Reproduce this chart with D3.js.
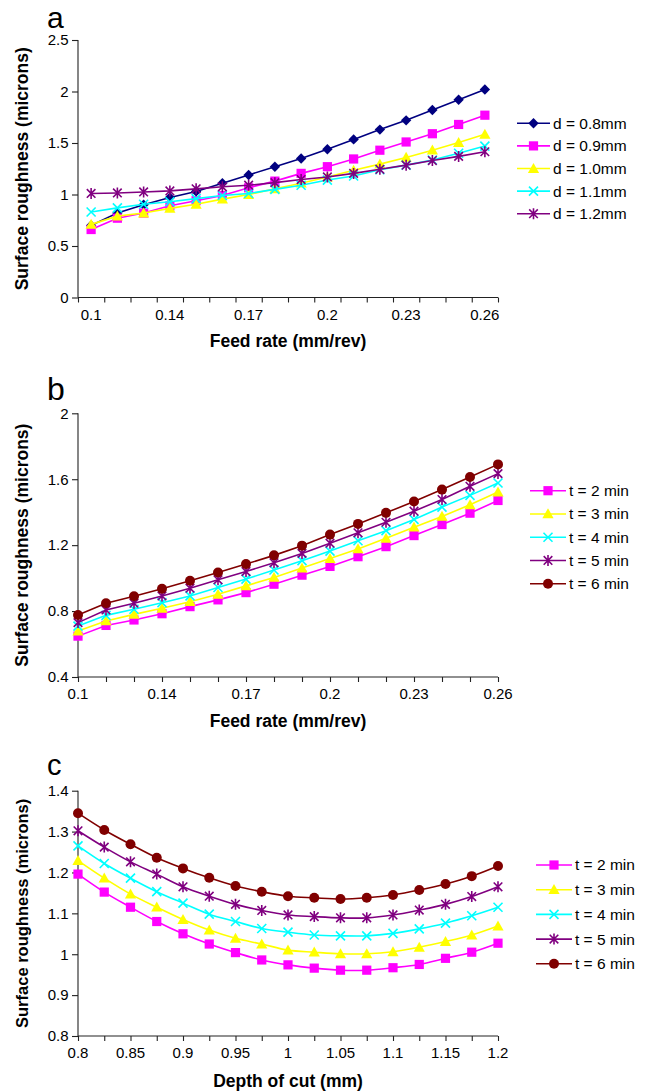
<!DOCTYPE html>
<html><head><meta charset="utf-8">
<script src="https://cdn.jsdelivr.net/npm/d3@7"></script>
<style>
body{margin:0;background:#fff}
svg{display:block}
text{font-family:"Liberation Sans",Arial,Helvetica,sans-serif;fill:#000}
</style>
</head><body>
<svg id="chart" width="646" height="1091"></svg>
<script>
// ---------- DATA ----------
// Panel a: feed rate categories (tick labels shown every 3rd category)
const feedLabelsA = ["0.1","","","0.14","","","0.17","","","0.2","","","0.23","","","0.26"];
const seriesNamesA = ["d = 0.8mm","d = 0.9mm","d = 1.0mm","d = 1.1mm","d = 1.2mm"];
const aD08 = [0.70,0.82,0.90,0.97,1.03,1.11,1.19,1.27,1.35,1.44,1.535,1.63,1.72,1.82,1.92,2.02];
const aD09 = [0.66,0.77,0.82,0.89,0.94,0.99,1.065,1.13,1.205,1.27,1.345,1.43,1.51,1.59,1.68,1.77];
const aD10 = [0.71,0.79,0.82,0.865,0.905,0.955,1.0,1.055,1.11,1.17,1.235,1.295,1.36,1.43,1.505,1.585];
const aD11 = [0.83,0.87,0.905,0.93,0.96,0.99,1.01,1.05,1.09,1.14,1.18,1.24,1.285,1.335,1.40,1.47];
const aD12 = [1.01,1.015,1.025,1.035,1.055,1.075,1.09,1.115,1.145,1.17,1.205,1.245,1.285,1.33,1.37,1.415];
const yTicksA = [0,0.5,1,1.5,2,2.5];

// Panel b: feed rate categories
const feedLabelsB = ["0.1","","","0.14","","","0.17","","","0.2","","","0.23","","","0.26"];
const seriesNamesT = ["t = 2 min","t = 3 min","t = 4 min","t = 5 min","t = 6 min"];
const bT2 = [0.648,0.713,0.746,0.784,0.827,0.868,0.912,0.963,1.018,1.071,1.13,1.191,1.258,1.325,1.394,1.471];
const bT3 = [0.679,0.74,0.78,0.817,0.857,0.902,0.953,1.004,1.061,1.119,1.177,1.242,1.309,1.374,1.445,1.522];
const bT4 = [0.709,0.774,0.811,0.851,0.892,0.943,0.994,1.049,1.106,1.164,1.227,1.288,1.356,1.431,1.502,1.577];
const bT5 = [0.73,0.807,0.848,0.892,0.939,0.99,1.04,1.093,1.15,1.212,1.275,1.339,1.406,1.477,1.557,1.634];
const bT6 = [0.776,0.848,0.89,0.935,0.984,1.034,1.085,1.138,1.197,1.264,1.329,1.396,1.465,1.537,1.613,1.69];
const yTicksB = [0.4,0.8,1.2,1.6,2];

// Panel c: depth of cut categories
const depthLabelsC = ["0.8","","0.85","","0.9","","0.95","","1","","1.05","","1.1","","1.15","","1.2"];
const cT2 = [1.196,1.152,1.115,1.08,1.05,1.025,1.004,0.986,0.974,0.966,0.961,0.961,0.967,0.975,0.99,1.005,1.027];
const cT3 = [1.229,1.186,1.147,1.115,1.085,1.059,1.039,1.025,1.01,1.005,1.001,1.001,1.006,1.017,1.031,1.047,1.069];
const cT4 = [1.265,1.222,1.186,1.153,1.125,1.098,1.08,1.063,1.054,1.047,1.045,1.045,1.051,1.062,1.076,1.094,1.115];
const cT5 = [1.302,1.262,1.226,1.196,1.165,1.142,1.122,1.107,1.096,1.092,1.089,1.089,1.096,1.108,1.122,1.141,1.165];
const cT6 = [1.345,1.304,1.269,1.236,1.21,1.187,1.167,1.153,1.142,1.138,1.135,1.138,1.145,1.157,1.172,1.191,1.216];
const yTicksC = [0.8,0.9,1,1.1,1.2,1.3,1.4];

const colorsA = ["#000080","#ff00ff","#ffff00","#00ffff","#800080"];
const markersA = ["diamond","square","triangle","x","asterisk"];
const colorsT = ["#ff00ff","#ffff00","#00ffff","#800080","#800000"];
const markersT = ["square","triangle","x","asterisk","circle"];

// ---------- DRAWING ----------
const svg = d3.select("#chart");

function marker(g, type, color, x, y) {
  if (type === "diamond") {
    g.append("path").attr("d", `M${x},${y-5.2}L${x+5.2},${y}L${x},${y+5.2}L${x-5.2},${y}Z`).attr("fill", color);
  } else if (type === "square") {
    g.append("rect").attr("x", x-4.6).attr("y", y-4.6).attr("width", 9.2).attr("height", 9.2).attr("fill", color);
  } else if (type === "triangle") {
    g.append("path").attr("d", `M${x},${y-5.6}L${x+5.6},${y+4.4}L${x-5.6},${y+4.4}Z`).attr("fill", color);
  } else if (type === "x") {
    g.append("path").attr("d", `M${x-4.5},${y-4.5}L${x+4.5},${y+4.5}M${x-4.5},${y+4.5}L${x+4.5},${y-4.5}`)
      .attr("stroke", color).attr("stroke-width", 1.6).attr("fill", "none");
  } else if (type === "asterisk") {
    g.append("path").attr("d", `M${x-4.3},${y-4.3}L${x+4.3},${y+4.3}M${x-4.3},${y+4.3}L${x+4.3},${y-4.3}M${x},${y-5.5}L${x},${y+5.5}`)
      .attr("stroke", color).attr("stroke-width", 1.6).attr("fill", "none");
  } else if (type === "circle") {
    g.append("circle").attr("cx", x).attr("cy", y).attr("r", 5).attr("fill", color);
  }
}

function panel(cfg) {
  const g = svg.append("g");
  const n = cfg.labels.length;
  let xPos, boundaryTicks;
  if (cfg.band) {
    const xb = d3.scaleBand().domain(d3.range(n)).range([78, 498]).padding(0);
    xPos = i => xb(i) + xb.bandwidth() / 2;
    boundaryTicks = d3.scaleLinear().domain([0, n]).range([78, 498]);
  } else {
    const xp = d3.scalePoint().domain(d3.range(n)).range([78, 498]).padding(0);
    xPos = i => xp(i);
    boundaryTicks = d3.scaleLinear().domain([0, n-1]).range([78, 498]);
  }
  const y = d3.scaleLinear().domain(cfg.yDomain).range([cfg.yBottom, cfg.yTop]);

  // y axis
  const ya = g.append("g").attr("transform", "translate(78,0)")
    .call(d3.axisLeft(y).tickValues(cfg.yTicks).tickSize(6).tickPadding(3.5).tickFormat(d3.format("~g")));
  ya.selectAll("text").style("font-size", "15px");
  ya.selectAll("line,path").attr("stroke", "#222").attr("stroke-width", 1.1);
  ya.select(".domain").attr("d", `M0,${cfg.yTop}V${cfg.yBottom}`);

  // x axis tick marks
  const tickVals = cfg.band ? d3.range(n+1) : d3.range(n);
  const xt = g.append("g").attr("transform", `translate(0,${cfg.yBottom})`)
    .call(d3.axisBottom(boundaryTicks).tickValues(tickVals).tickSize(5).tickFormat(""));
  xt.selectAll("line,path").attr("stroke", "#222").attr("stroke-width", 1.1);
  xt.select(".domain").attr("d", `M78,0H498`);
  // x labels
  const labIdx = d3.range(n).filter(i => cfg.labels[i] !== "");
  const xl = g.append("g").attr("transform", `translate(0,${cfg.yBottom})`);
  xl.selectAll("text").data(labIdx).join("text")
    .attr("x", i => xPos(i)).attr("y", 11.5).attr("dy", "0.71em")
    .attr("text-anchor", "middle").style("font-size", "15px")
    .text(i => cfg.labels[i]);

  // axis titles
  g.append("text").attr("x", 288).attr("y", cfg.yBottom + cfg.xTitleOff)
    .attr("text-anchor", "middle").style("font-size", "17.5px").style("font-weight", "bold")
    .text(cfg.xTitle);
  g.append("text").attr("transform", `translate(${cfg.yTitleX},${(cfg.yTop + cfg.yBottom)/2}) rotate(-90)`)
    .attr("text-anchor", "middle").attr("dy", "0.35em")
    .style("font-size", cfg.yTitleSize + "px").style("font-weight", "bold")
    .text("Surface roughness (microns)");

  // panel letter
  g.append("text").attr("x", 47).attr("y", cfg.letterY).style("font-size", cfg.letterSize + "px").text(cfg.letter);

  // series
  const line = d3.line().x((d, i) => xPos(i)).y(d => y(d));
  if (cfg.smooth) line.curve(d3.curveCatmullRom.alpha(0));
  cfg.series.forEach((s, k) => {
    const sg = g.append("g");
    sg.append("path").datum(s).attr("d", line).attr("fill", "none")
      .attr("stroke", cfg.colors[k]).attr("stroke-width", 1.6);
    s.forEach((v, i) => marker(sg, cfg.markers[k], cfg.colors[k], xPos(i), y(v)));
  });

  // legend
  cfg.names.forEach((name, k) => {
    const ly = cfg.legY + k * cfg.legStep;
    const lg = g.append("g");
    lg.append("line").attr("x1", cfg.legX1).attr("x2", cfg.legX2).attr("y1", ly).attr("y2", ly)
      .attr("stroke", cfg.colors[k]).attr("stroke-width", 1.6);
    marker(lg, cfg.markers[k], cfg.colors[k], (cfg.legX1 + cfg.legX2) / 2, ly);
    lg.append("text").attr("x", cfg.legX2 + 3).attr("y", ly).attr("dy", "0.35em")
      .style("font-size", "15.5px").text(name);
  });
}

panel({
  band: true, labels: feedLabelsA, yDomain: [0, 2.5], yTop: 40, yBottom: 297.5, yTicks: yTicksA,
  xTitle: "Feed rate (mm/rev)", xTitleOff: 49, yTitleX: 22, yTitleSize: 17.5,
  letter: "a", letterY: 27.5, letterSize: 30,
  series: [aD08, aD09, aD10, aD11, aD12], colors: colorsA, markers: markersA, names: seriesNamesA,
  legY: 123.3, legStep: 22.6, legX1: 517, legX2: 550, smooth: false
});
panel({
  band: false, labels: feedLabelsB, yDomain: [0.4, 2], yTop: 413.3, yBottom: 677, yTicks: yTicksB,
  xTitle: "Feed rate (mm/rev)", xTitleOff: 49.5, yTitleX: 22, yTitleSize: 17.5,
  letter: "b", letterY: 400, letterSize: 32,
  series: [bT2, bT3, bT4, bT5, bT6], colors: colorsT, markers: markersT, names: seriesNamesT,
  legY: 490.7, legStep: 23.25, legX1: 530, legX2: 566, smooth: false
});
panel({
  band: false, labels: depthLabelsC, yDomain: [0.8, 1.4], yTop: 790.7, yBottom: 1036, yTicks: yTicksC,
  xTitle: "Depth of cut (mm)", xTitleOff: 50.5, yTitleX: 22, yTitleSize: 16.5,
  letter: "c", letterY: 775, letterSize: 29,
  series: [cT2, cT3, cT4, cT5, cT6], colors: colorsT, markers: markersT, names: seriesNamesT,
  legY: 865, legStep: 24.7, legX1: 536, legX2: 572, smooth: true
});
</script>
</body></html>
